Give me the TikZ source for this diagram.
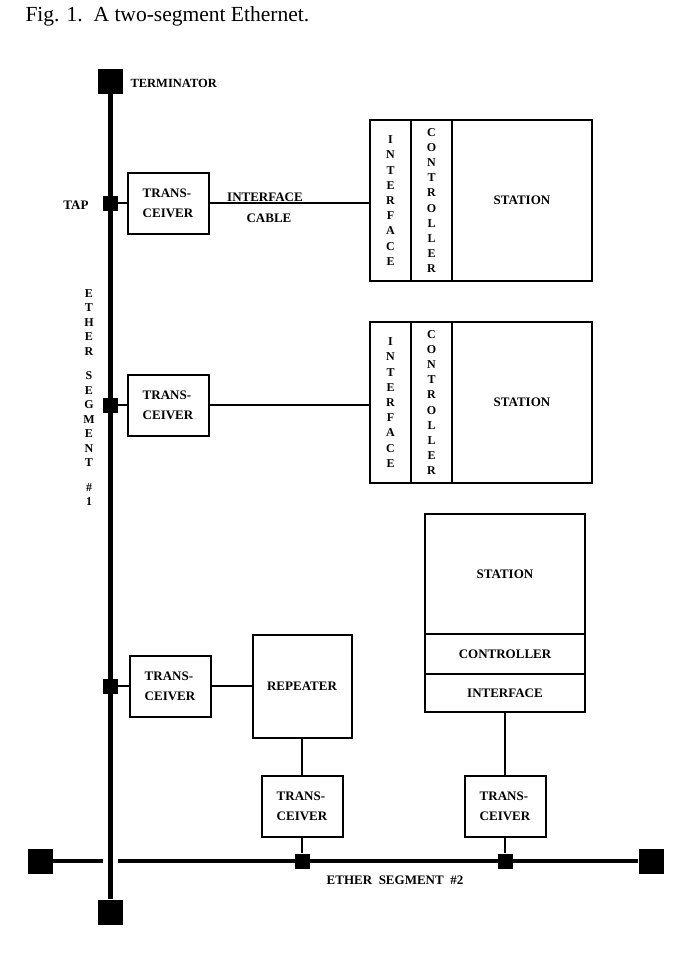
\documentclass[tikz,border=0pt]{standalone}
\usepackage{fontspec}
\setmainfont{Liberation Serif}
\usepackage{tikz}

\tikzset{
  lbl/.style={font=\bfseries\fontsize{13}{20}\selectfont},
  box/.style={draw,line width=2pt,inner sep=0pt,lbl,align=left},
  tbox/.style={box,minimum width=81pt,minimum height=61pt},
  col/.style={box,minimum width=41pt,minimum height=161pt,align=center,font=\bfseries\fontsize{12}{15.2}\selectfont},
  term/.style={fill=black,minimum size=25pt,inner sep=0pt},
  tap/.style={fill=black,minimum size=15pt,inner sep=0pt},
  cable/.style={line width=1.4pt},
  ether/.style={line width=5pt},
}

\begin{document}
\begin{tikzpicture}[x=1pt,y=-1pt]
            \useasboundingbox (0,0) rectangle (684,956);
            \node[anchor=west,font=\fontsize{21.5}{24}\selectfont] (cap) at (22,16) {Fig. 1.\ \ A two-segment Ethernet.};

            %%%% ether segment 1
            \node[term] (termT) at (110,81) {};
            \node[term] (termB) at (110,912) {};
            \draw[ether] (termT) -- (termB);
            \node[anchor=west,lbl,font=\bfseries\fontsize{12.5}{14}\selectfont] (termlbl) at (127,83) {TERMINATOR};
            \node[anchor=north,inner sep=0pt,align=center,font=\bfseries\fontsize{12}{14.5}\selectfont] (seg1) at (89,289)
                {E\\T\\H\\E\\R\\[10pt]S\\E\\G\\M\\E\\N\\T\\[10pt]\#\\1};

            %%%% ether segment 2
            \node[term] (termL) at (40,861) {};
            \node[term] (termR) at (651,861) {};
            \coordinate (gapL) at (103,861);
            \coordinate (gapR) at (118,861);
            \draw[ether,line width=4pt] (termL) -- (gapL);
            \draw[ether,line width=4pt] (gapR) -- (termR);
            \node[lbl] (seg2) at (395,880) {ETHER\ \ SEGMENT\ \ \#2};

            %%%% first station
            \node[tap] (tap1) at (110,203) {};
            \node[anchor=east,lbl] (taplbl) at (92,205) {TAP};
            \node[tbox] (tx1) at (168,203) {TRANS-\\CEIVER};
            \node[col] (iface1) at (390.5,200.5) {I\\N\\T\\E\\R\\F\\A\\C\\E};
            \node[col] (ctrl1) at (431.5,200.5) {C\\O\\N\\T\\R\\O\\L\\L\\E\\R};
            \node[box,minimum width=140pt,minimum height=161pt] (stn1) at (522,200.5) {STATION};
            \draw[cable] (tap1) -- (tx1);
            \draw[cable] (tx1) -- (iface1.west |- tx1);
            \node[lbl] (cbl1) at (265,197) {INTERFACE};
            \node[lbl] (cbl2) at (269,218) {CABLE};

            %%%% second station
            \node[tap] (tap2) at (110,405) {};
            \node[tbox] (tx2) at (168,405) {TRANS-\\CEIVER};
            \node[col] (iface2) at (390.5,402.5) {I\\N\\T\\E\\R\\F\\A\\C\\E};
            \node[col] (ctrl2) at (431.5,402.5) {C\\O\\N\\T\\R\\O\\L\\L\\E\\R};
            \node[box,minimum width=140pt,minimum height=161pt] (stn2) at (522,402.5) {STATION};
            \draw[cable] (tap2) -- (tx2);
            \draw[cable] (tx2) -- (iface2.west |- tx2);

            %%%% repeater
            \node[tap] (tap3) at (110,686) {};
            \node[tbox] (tx3) at (170,686) {TRANS-\\CEIVER};
            \node[box,minimum width=99pt,minimum height=103pt] (rep) at (302,686) {REPEATER};
            \node[tbox] (tx4) at (302,806.5) {TRANS-\\CEIVER};
            \node[tap] (tap4) at (302,861) {};
            \draw[cable] (tap3) -- (tx3);
            \draw[cable] (tx3) -- (rep);
            \draw[cable] (rep) -- (tx4);
            \draw[cable] (tx4) -- (tap4);

            %%%% third station
            \node[box,minimum width=160pt,minimum height=120pt] (stn3) at (505,574) {STATION};
            \node[box,minimum width=160pt,minimum height=40pt] (ctrl3) at (505,654) {CONTROLLER};
            \node[box,minimum width=160pt,minimum height=38pt] (iface3) at (505,693) {INTERFACE};
            \node[tbox] (tx5) at (505,806.5) {TRANS-\\CEIVER};
            \node[tap] (tap5) at (505,861) {};
            \draw[cable] (iface3) -- (tx5);
            \draw[cable] (tx5) -- (tap5);
        \end{tikzpicture}
\end{document}
